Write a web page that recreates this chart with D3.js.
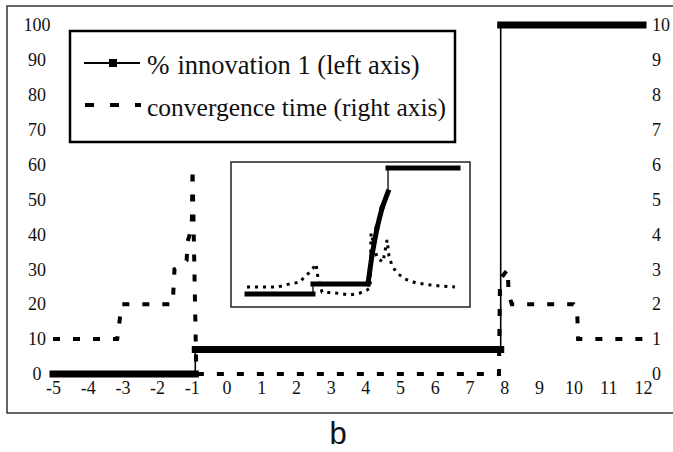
<!DOCTYPE html>
<html>
<head>
<meta charset="utf-8">
<script src="https://cdn.jsdelivr.net/npm/d3@7"></script>
<style>
  body { margin: 0; background: #fff; }
  text { font-family: "Liberation Serif", "Times New Roman", serif; fill: #111; }
</style>
</head>
<body>
<svg id="chart" width="673" height="452"></svg>
<script>
// tick labels
var xTicks = [-5, -4, -3, -2, -1, 0, 1, 2, 3, 4, 5, 6, 7, 8, 9, 10, 11, 12];
var leftTicks = [0, 10, 20, 30, 40, 50, 60, 70, 80, 90, 100];
var rightTicks = [0, 1, 2, 3, 4, 5, 6, 7, 8, 9, 10];

// % innovation 1 (left axis)
var innovX = [-5, -0.9, -0.9, 7.9, 7.9, 12];
var innovY = [0, 0, 7, 7, 100, 100];

// convergence time (right axis)
var convX = [-5, -3.15, -3.02, -1.55, -1.5, -1.4, -1.15, -1.12, -1.0, -0.98, -0.87, 7.85, 7.88, 8.1, 8.13, 8.22, 10.0, 10.1, 10.13, 12];
var convY = [1, 1, 2, 2, 3, 3.05, 3.25, 3.8, 4.2, 5.9, 0, 0, 2.7, 3.0, 2.3, 2.0, 2.0, 1.9, 1.0, 1.0];

// inset (same two series, zoomed, no axes)
var insetInnovX = [6.7, 34.3, 34.3, 57.3, 59.0, 61.1, 63.2, 65.7, 65.7, 95.0];
var insetInnovY = [9.0, 9.0, 15.9, 15.9, 35.9, 54.5, 68.3, 79.3, 95.9, 95.9];
var insetConvX = [6.7, 19.7, 22.6, 28.9, 31.0, 33.1, 34.7, 35.6, 36.4, 38.1, 43.5, 49.8, 54.0, 56.9, 58.2, 58.6, 61.1, 63.6, 65.3, 66.1, 67.4, 69.5, 72.8, 77.4, 83.3, 87.4, 93.7];
var insetConvY = [13.8, 13.8, 15.2, 17.2, 21.4, 24.1, 27.6, 29.7, 20.0, 10.3, 9.7, 8.3, 9.7, 11.7, 13.1, 51.0, 33.8, 31.0, 46.2, 35.2, 28.3, 23.4, 19.3, 16.6, 15.2, 14.5, 13.8];

var svg = d3.select("#chart");

// outer frame (open at the right side)
svg.append("path")
  .attr("d", "M 680,6 H 7 V 413 H 680")
  .attr("fill", "none")
  .attr("stroke", "#333")
  .attr("stroke-width", 1.5);

var x = d3.scaleLinear().domain([-5, 12]).range([53, 643]);
var yL = d3.scaleLinear().domain([0, 100]).range([374, 25]);
var yR = d3.scaleLinear().domain([0, 10]).range([374, 25]);

// axes: labels only
var gl = svg.append("g").attr("transform", "translate(37,0)")
  .call(d3.axisLeft(yL).tickValues(leftTicks).tickSize(0).tickPadding(0));
gl.selectAll("text").attr("text-anchor", "middle");

var gr = svg.append("g").attr("transform", "translate(652,0)")
  .call(d3.axisRight(yR).tickValues(rightTicks).tickSize(0).tickPadding(0));

var gx = svg.append("g").attr("transform", "translate(0,381)")
  .call(d3.axisBottom(x).tickValues(xTicks).tickSize(0).tickPadding(0)
    .tickFormat(function (d) { return d < 0 ? "-" + (-d) : d; }));

[gl, gr, gx].forEach(function (g) {
  g.select(".domain").remove();
  g.selectAll("text")
    .attr("fill", "#111")
    .style("font-family", '"Liberation Serif", "Times New Roman", serif')
    .style("font-size", "18px");
});

function pts(xs, ys) {
  return xs.map(function (v, i) { return [v, ys[i]]; });
}

// line with dense markers: thin line, thick band where it runs sideways
function markerLine(g, data, sx, sy, thin, thick) {
  g.append("path")
    .attr("d", d3.line().x(function (d) { return sx(d[0]); }).y(function (d) { return sy(d[1]); })(data))
    .attr("fill", "none")
    .attr("stroke", "#000")
    .attr("stroke-width", thin);
  d3.range(data.length - 1).forEach(function (i) {
    var a = data[i], b = data[i + 1];
    if (a[0] == b[0]) return;
    g.append("line")
      .attr("x1", sx(a[0])).attr("y1", sy(a[1]))
      .attr("x2", sx(b[0])).attr("y2", sy(b[1]))
      .attr("stroke", "#000")
      .attr("stroke-width", thick)
      .attr("stroke-linecap", "square");
  });
}

var plot = svg.append("g");

plot.append("path")
  .attr("d", d3.line().x(function (d) { return x(d[0]); }).y(function (d) { return yR(d[1]); })(pts(convX, convY)))
  .attr("fill", "none")
  .attr("stroke", "#000")
  .attr("stroke-width", 4)
  .attr("stroke-dasharray", "7,13");

markerLine(plot, pts(innovX, innovY), x, yL, 1.6, 7);

// legend
var lg = svg.append("g");
lg.append("rect")
  .attr("x", 70).attr("y", 31).attr("width", 385).attr("height", 111)
  .attr("fill", "#fff").attr("stroke", "#000").attr("stroke-width", 2.5);
lg.append("line")
  .attr("x1", 84).attr("x2", 140).attr("y1", 63).attr("y2", 63)
  .attr("stroke", "#000").attr("stroke-width", 1.8);
lg.append("rect")
  .attr("x", 109).attr("y", 59).attr("width", 8).attr("height", 8)
  .attr("fill", "#000");
lg.append("line")
  .attr("x1", 85).attr("x2", 141).attr("y1", 105).attr("y2", 105)
  .attr("stroke", "#000").attr("stroke-width", 4)
  .attr("stroke-dasharray", "9,16");
var t1 = lg.append("text").attr("x", 147).attr("y", 74)
  .style("font-size", "26.5px");
t1.append("tspan").style("font-size", "27px").text("%");
t1.append("tspan").attr("dx", 8).text("innovation 1 (left axis)");
lg.append("text").attr("x", 147).attr("y", 116)
  .style("font-size", "25.5px").text("convergence time (right axis)");

// inset
var ix = d3.scaleLinear().domain([0, 100]).range([231, 470]);
var iy = d3.scaleLinear().domain([0, 100]).range([307, 162]);
var ig = svg.append("g");
ig.append("rect")
  .attr("x", 231).attr("y", 162).attr("width", 239).attr("height", 145)
  .attr("fill", "#fff").attr("stroke", "#222").attr("stroke-width", 1.5);
ig.append("path")
  .attr("d", d3.line().x(function (d) { return ix(d[0]); }).y(function (d) { return iy(d[1]); })(pts(insetConvX, insetConvY)))
  .attr("fill", "none")
  .attr("stroke", "#000")
  .attr("stroke-width", 3)
  .attr("stroke-dasharray", "3,5");
markerLine(ig, pts(insetInnovX, insetInnovY), ix, iy, 1.3, 5);

// panel letter
svg.append("text")
  .attr("x", 338).attr("y", 444)
  .attr("text-anchor", "middle")
  .style("font-family", '"Liberation Sans", Arial, sans-serif')
  .style("font-size", "31px")
  .text("b");
</script>
</body>
</html>
